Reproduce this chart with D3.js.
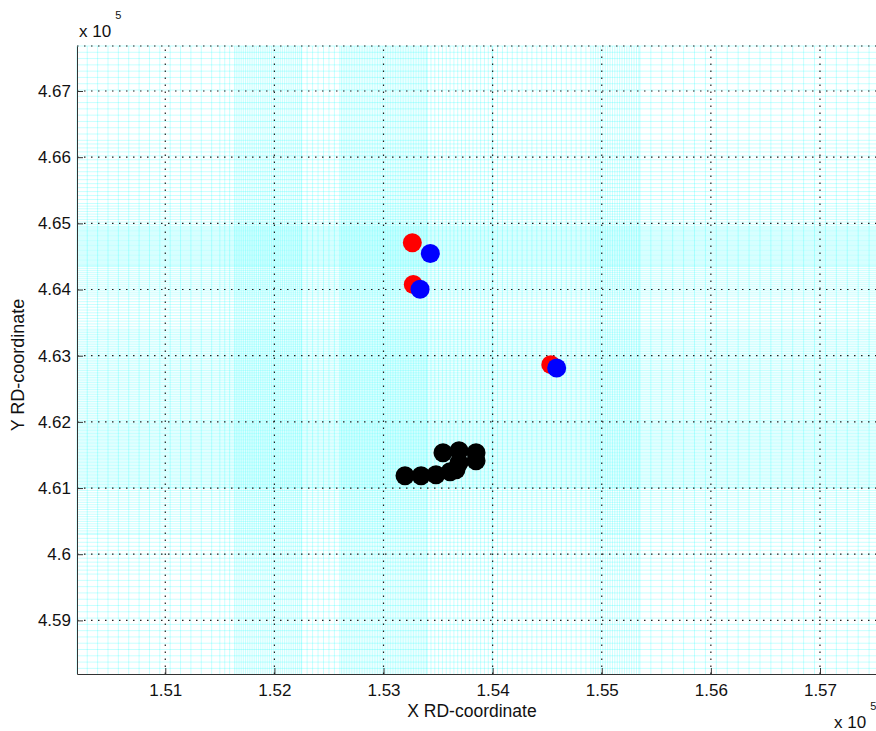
<!DOCTYPE html>
<html>
<head>
<meta charset="utf-8">
<script src="https://cdn.jsdelivr.net/npm/d3@7"></script>
<style>
  body { margin: 0; background: #fff; }
  svg { display: block; font-family: "Liberation Sans", Arial, sans-serif; }
</style>
</head>
<body>
<div id="chart"></div>
<script>
// tick values (raw RD units)
const xTicks = [151000, 152000, 153000, 154000, 155000, 156000, 157000];
const yTicks = [459000, 460000, 461000, 462000, 463000, 464000, 465000, 466000, 467000];

// red / blue pairs
const redX = [153264, 153273, 154533];
const redY = [464707, 464076, 462865];
const blueX = [153429, 153335, 154587];
const blueY = [464545, 464005, 462815];

// black cluster
const blackX = [153197, 153344, 153481, 153610, 153545, 153692, 153848, 153848, 153692, 153664];
const blackY = [461186, 461186, 461201, 461247, 461534, 461564, 461534, 461413, 461383, 461277];

// background cyan line bands: [from, to, step]
const vBands = [
  [150190, 151500, 95], [151500, 151650, 45], [151650, 152250, 17],
  [152250, 152600, 50], [152600, 153400, 15], [153400, 154000, 35],
  [154000, 154900, 45], [154900, 155350, 22], [155350, 157600, 100]
];
const hBands = [
  [467680, 466200, 95], [466200, 465300, 60], [465300, 464950, 40],
  [464950, 464350, 19], [464350, 463900, 30], [463900, 463400, 42],
  [463400, 462000, 26], [462000, 461000, 22], [461000, 460300, 36],
  [460300, 459700, 60], [459700, 458190, 95]
];

const width = 876, height = 731;
const plot = { left: 77, right: 880, top: 46, bottom: 674 };

const svg = d3.select('#chart').append('svg')
  .attr('width', width)
  .attr('height', height);

const x = d3.scaleLinear().domain([150191, 157550]).range([plot.left, plot.right]);
const y = d3.scaleLinear().domain([458190, 467680]).range([plot.bottom, plot.top]);

// cyan background lines
const vLines = [], hLines = [];
vBands.forEach(([a, b, s]) => { for (let v = a; v < b; v += s) vLines.push(v); });
hBands.forEach(([a, b, s]) => { for (let v = a; v > b; v -= s) hLines.push(v); });

const bg = svg.append('g');
bg.selectAll('.vl').data(vLines).enter().append('line')
  .attr('x1', d => x(d)).attr('x2', d => x(d))
  .attr('y1', plot.top).attr('y2', plot.bottom)
  .attr('stroke', '#00ffff').attr('stroke-opacity', 0.22).attr('stroke-width', 1);
bg.selectAll('.hl').data(hLines).enter().append('line')
  .attr('y1', d => y(d)).attr('y2', d => y(d))
  .attr('x1', plot.left).attr('x2', plot.right)
  .attr('stroke', '#00ffff').attr('stroke-opacity', 0.22).attr('stroke-width', 1);

// dotted major grid
const grid = svg.append('g').attr('stroke', '#222').attr('stroke-width', 1.2)
  .attr('stroke-dasharray', '1.5,5.5');
grid.selectAll('.gx').data(xTicks).enter().append('line')
  .attr('x1', d => x(d)).attr('x2', d => x(d))
  .attr('y1', plot.bottom).attr('y2', plot.top);
grid.selectAll('.gy').data(yTicks).enter().append('line')
  .attr('y1', d => y(d)).attr('y2', d => y(d))
  .attr('x1', plot.left).attr('x2', plot.right);
grid.append('line')
  .attr('x1', plot.left).attr('x2', plot.right)
  .attr('y1', plot.top).attr('y2', plot.top);

// axes
svg.append('g')
  .attr('transform', `translate(0,${plot.bottom})`)
  .call(d3.axisBottom(x).tickValues(xTicks).tickSizeInner(-6).tickSizeOuter(0)
    .tickPadding(10).tickFormat(d => d3.format('.2f')(d / 1e5)))
  .call(g => g.selectAll('path,line').attr('stroke', '#333'))
  .call(g => g.selectAll('text').attr('font-size', 17).attr('fill', '#111'));

svg.append('g')
  .attr('transform', `translate(${plot.left},0)`)
  .call(d3.axisLeft(y).tickValues(yTicks).tickSizeInner(-6).tickSizeOuter(0)
    .tickPadding(6).tickFormat(d => String(+(d / 1e5).toFixed(2))))
  .call(g => g.selectAll('path,line').attr('stroke', '#333'))
  .call(g => g.selectAll('text').attr('font-size', 17).attr('fill', '#111'));

// markers
const r = 9.5;
svg.selectAll('.red').data(redX).enter().append('circle')
  .attr('cx', d => x(d)).attr('cy', (d, i) => y(redY[i])).attr('r', r).attr('fill', '#ff0000');
svg.selectAll('.blue').data(blueX).enter().append('circle')
  .attr('cx', d => x(d)).attr('cy', (d, i) => y(blueY[i])).attr('r', r).attr('fill', '#0000ff');
svg.selectAll('.black').data(blackX).enter().append('circle')
  .attr('cx', d => x(d)).attr('cy', (d, i) => y(blackY[i])).attr('r', r).attr('fill', '#000');

// exponent labels
const expo = (tx, ty) => {
  const t = svg.append('text').attr('x', tx).attr('y', ty).attr('font-size', 17).attr('fill', '#111');
  t.append('tspan').text('x 10');
  t.append('tspan').attr('dx', 4).attr('dy', -18).attr('font-size', 11).text('5');
};
expo(79, 37);
expo(834, 728);

// axis titles
svg.append('text').attr('x', 472).attr('y', 717).attr('text-anchor', 'middle')
  .attr('font-size', 17.5).attr('fill', '#111').text('X RD-coordinate');
svg.append('text').attr('transform', 'translate(24,365) rotate(-90)')
  .attr('text-anchor', 'middle').attr('font-size', 18).attr('fill', '#111').text('Y RD-coordinate');
</script>
</body>
</html>
